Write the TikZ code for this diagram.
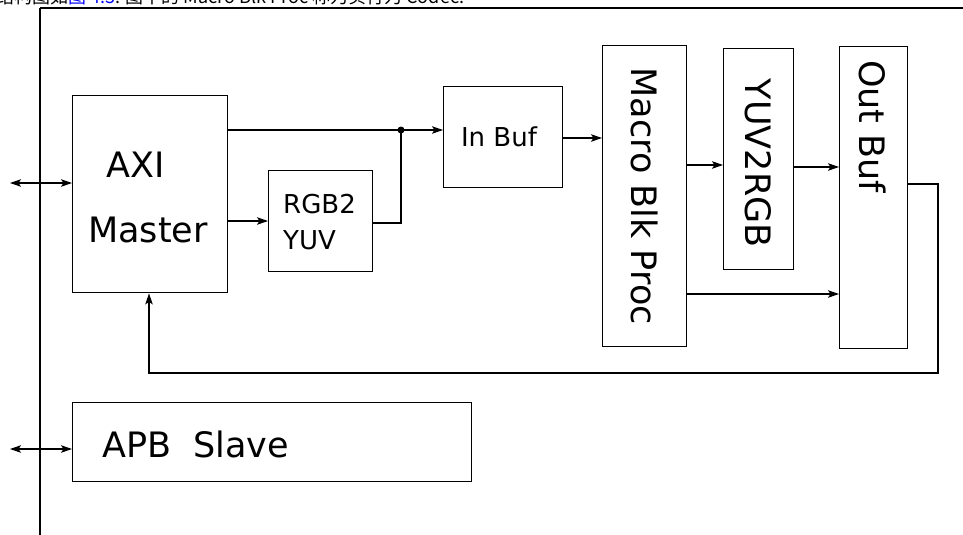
\documentclass[tikz,border=0pt]{standalone}
\usepackage{fontspec}
\setmainfont{DejaVu Sans}
\newfontfamily\cjk{Noto Sans CJK SC}
\usetikzlibrary{arrows.meta}
\begin{document}
\begin{tikzpicture}[x=1pt,y=-1pt,
  blk/.style={draw, line width=1.4pt, inner sep=0pt, anchor=north west},
  lbl/.style={inner sep=0pt},
  tip/.style={-{Stealth[length=11pt,width=7.5pt,inset=2.5pt]}},
  conn/.style={line width=1.3pt, tip},
  bidir/.style={line width=1.3pt, {Stealth[length=11pt,width=7.5pt,inset=2.5pt]}-{Stealth[length=11pt,width=7.5pt,inset=2.5pt]}},
  big/.style={font=\fontsize{35}{40}\selectfont},
  mid/.style={font=\fontsize{26}{30}\selectfont}]
\useasboundingbox (0,0) rectangle (963,535);
\fill[white] (0,0) rectangle (963,535);

% cropped header line
\node[lbl, anchor=base west, font=\cjk\fontsize{18}{20}\selectfont] (hdr) at (-4,4)
  {结构图如\textcolor{blue}{图 4.3}: 图中的 Macro Blk Proc 称为实行为 Codec.};

% frame lines
\coordinate (tl) at (40,8);
\coordinate (tr) at (963,8);
\coordinate (bl) at (40,535);
\draw[line width=2.5pt] (tl) -- (tr);
\draw[line width=1.8pt] (tl) -- (bl);

% blocks
\node[blk, minimum width=155pt, minimum height=197pt] (axi) at (72,95) {};
\node[blk, minimum width=104pt, minimum height=101pt] (rgb) at (268,170) {};
\node[blk, minimum width=119pt, minimum height=101pt] (inb) at (443,86) {};
\node[blk, minimum width=84pt, minimum height=301pt] (mac) at (602,45) {};
\node[blk, minimum width=70pt, minimum height=221pt] (yuv) at (723,48) {};
\node[blk, minimum width=68pt, minimum height=302pt] (outb) at (839,46) {};
\node[blk, minimum width=399pt, minimum height=79pt] (apb) at (72,402) {};

% labels
\node[lbl, big, anchor=base] (taxi) at (136,177) {AXI};
\node[lbl, big, anchor=base] (tmas) at (148,242) {Master};
\node[lbl, mid, anchor=base west] (trgb) at (283,213) {RGB2};
\node[lbl, mid, anchor=base west] (tyuv) at (283,249) {YUV};
\node[lbl, mid, anchor=base] (tinb) at (499,146) {In Buf};
\node[lbl, big, rotate=-90, anchor=center] (tmac) at (mac.center) {Macro Blk Proc};
\node[lbl, big, rotate=-90, anchor=center] (tyuv2) at ([yshift=-4pt]yuv.center) {YUV2RGB};
\node[lbl, big, rotate=-90, anchor=west] (tout) at (873,60) {Out Buf};
\node[lbl, big, anchor=base west] (tapb) at (102,457) {APB\ \ Slave};

% external bidirectional links
\coordinate (ea) at (10,183);
\coordinate (eb) at (10,449);
\draw[bidir] (ea) -- (axi.west |- ea);
\draw[bidir] (eb) -- (apb.west |- eb);

% data path
\coordinate (dot) at (401,130);
\draw[line width=1.3pt] (axi.east |- dot) -- (dot);
\draw[conn] (dot) -- (inb.west |- dot);
\fill (dot) circle (3.5pt);
\draw[conn] (axi.east |- 0,221) -- (rgb.west |- 0,221);
\draw[line width=1.3pt] (rgb.east |- 0,223) -- (401,223) -- (dot);
\draw[conn] (inb.east |- 0,138) -- (mac.west |- 0,138);
\draw[conn] (mac.east |- 0,165) -- (yuv.west |- 0,165);
\draw[conn] (yuv.east |- 0,167) -- (outb.west |- 0,167);
\draw[conn] (mac.east |- 0,294) -- (outb.west |- 0,294);

% feedback
\coordinate (f1) at (938,184);
\coordinate (f2) at (938,373);
\coordinate (f3) at (149,373);
\draw[line width=1.3pt, tip] (outb.east |- f1) -- (f1) -- (f2) -- (f3) -- (f3 |- axi.south);
\end{tikzpicture}
\end{document}
